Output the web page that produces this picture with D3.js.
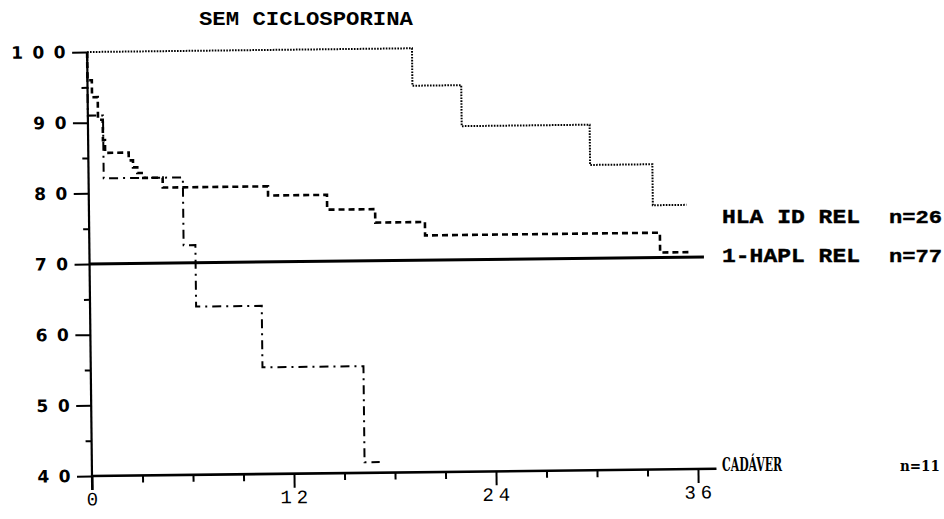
<!DOCTYPE html>
<html>
<head>
<meta charset="utf-8">
<script src="https://cdn.jsdelivr.net/npm/d3@7"></script>
<style>
  body { margin: 0; background: #fff; }
  svg { display: block; }
</style>
</head>
<body>
<div id="chart"></div>
<script>
// survival curves (months, % survival)
var hlaMonths  = [0, 19.3, 22.2, 29.8, 33.5, 35.5];
var hlaSurv    = [100, 94.7, 88.9, 83.2, 77.4, 77.4];

var haplMonths = [0, 0, 0.26, 0.6, 0.88, 1.0, 2.4, 2.65, 2.9, 3.25, 4.4, 10.65, 14.15, 17.0, 19.95, 33.9, 35.7];
var haplSurv   = [100, 96, 93.6, 90.4, 87.5, 85.7, 84.6, 83.6, 82.8, 82.1, 80.7, 79.4, 77.3, 75.4, 73.5, 70.7, 70.7];

var cadMonths  = [0, 0, 0.9, 5.6, 6.3, 10.2, 16.2, 17.1];
var cadSurv    = [100, 91, 82.1, 72.5, 63.8, 55.1, 41.5, 41.5];

var refLevel = 70;          // solid horizontal line
var refEnd = 36.5;

var groupNames = ["HLA ID REL", "1-HAPL REL", "CADÁVER"];
var groupN     = [26, 77, 11];

var yMajor = [40, 50, 60, 70, 80, 90, 100];
var yMinor = [45, 55, 65, 75, 85, 95];
var xMajor = [0, 12, 24, 36];
var xMinor = [3, 6, 9, 15, 18, 21, 27, 30, 33];

var title = "SEM CICLOSPORINA";

// setup canvas
var svg_width = 944;
var svg_height = 519;
var svg = d3.select("#chart").append("svg")
  .attr("width", svg_width)
  .attr("height", svg_height);

svg.append("rect")
  .attr("width", svg_width)
  .attr("height", svg_height)
  .attr("fill", "#fff");

var x = d3.scaleLinear().domain([0, 36]).range([92, 698]);
var y = d3.scaleLinear().domain([40, 100]).range([476, 52]);

// the scan is slightly tilted
var plot = svg.append("g")
  .attr("transform", "rotate(-0.66,92,476)");

// y-axis
var yAxis = plot.append("g")
  .attr("transform", "translate(" + x(0) + ",0)")
  .call(d3.axisLeft(y).tickValues(yMajor).tickSize(15).tickPadding(-3).tickFormat(d3.format("d")));
yAxis.select(".domain").remove();
yAxis.selectAll("line").attr("stroke", "#000").attr("stroke-width", 2);
yAxis.selectAll("text")
  .attr("fill", "#000")
  .style("font-family", "DejaVu Sans")
  .style("font-weight", "bold")
  .style("font-size", "17px")
  .style("letter-spacing", "9.5px");

var yMinorAxis = plot.append("g")
  .attr("transform", "translate(" + x(0) + ",0)")
  .call(d3.axisLeft(y).tickValues(yMinor).tickSize(6).tickFormat(""));
yMinorAxis.select(".domain").remove();
yMinorAxis.selectAll("line").attr("stroke", "#000").attr("stroke-width", 2);

plot.append("line")
  .attr("x1", x(0)).attr("x2", x(0))
  .attr("y1", y(100)).attr("y2", y(40) + 14)
  .attr("stroke", "#000").attr("stroke-width", 2.2);

// x-axis
var xAxis = plot.append("g")
  .attr("transform", "translate(0," + y(40) + ")")
  .call(d3.axisBottom(x).tickValues(xMajor).tickSize(14).tickPadding(2));
xAxis.select(".domain").remove();
xAxis.selectAll("line").attr("stroke", "#000").attr("stroke-width", 2);
xAxis.selectAll("text")
  .attr("fill", "#000")
  .attr("dx", "2px")
  .style("font-family", "Liberation Mono")
  .style("font-size", "19px")
  .style("letter-spacing", "5px");

var xMinorAxis = plot.append("g")
  .attr("transform", "translate(0," + y(40) + ")")
  .call(d3.axisBottom(x).tickValues(xMinor).tickSize(7).tickFormat(""));
xMinorAxis.select(".domain").remove();
xMinorAxis.selectAll("line").attr("stroke", "#000").attr("stroke-width", 2);

plot.append("line")
  .attr("x1", x(0)).attr("x2", x(37.1))
  .attr("y1", y(40)).attr("y2", y(40))
  .attr("stroke", "#000").attr("stroke-width", 2.6);

// reference line at 70
plot.append("line")
  .attr("x1", x(0)).attr("x2", x(refEnd))
  .attr("y1", y(refLevel)).attr("y2", y(refLevel))
  .attr("stroke", "#000").attr("stroke-width", 3);

// survival step curves
var step = d3.line()
  .x(function(d) { return x(d[0]); })
  .y(function(d) { return y(d[1]); })
  .curve(d3.curveStepAfter);

var curves = [
  { months: hlaMonths,  surv: hlaSurv,  width: 2,   dash: "1.6,1.3" },
  { months: haplMonths, surv: haplSurv, width: 2.6, dash: "6,4" },
  { months: cadMonths,  surv: cadSurv,  width: 2,   dash: "9,5,2,5" }
];

curves.forEach(function(c) {
  var pts = c.months.map(function(m, i) { return [m, c.surv[i]]; });
  plot.append("path")
    .datum(pts)
    .attr("d", step)
    .attr("fill", "none")
    .attr("stroke", "#000")
    .attr("stroke-width", c.width)
    .attr("stroke-dasharray", c.dash);
});

// title
svg.append("text")
  .attr("x", 199)
  .attr("y", 25)
  .attr("textLength", 214)
  .attr("lengthAdjust", "spacingAndGlyphs")
  .style("font-family", "Liberation Mono")
  .style("font-weight", "bold")
  .style("font-size", "21px")
  .text(title);

// group labels
var labelY = [223, 262, 471];
var nameLen = [138, 138, 60];
var nX = [889, 889, 900];
groupNames.forEach(function(name, i) {
  var cad = i == 2;
  svg.append("text")
    .attr("x", 722)
    .attr("y", labelY[i])
    .attr("textLength", nameLen[i])
    .attr("lengthAdjust", "spacingAndGlyphs")
    .style("font-family", cad ? "DejaVu Serif Condensed" : "Liberation Mono")
    .style("font-weight", "bold")
    .style("font-size", cad ? "18px" : "20px")
    .attr("stroke", "#000").attr("stroke-width", cad ? 0 : 0.4)
    .text(name);
  var nt = svg.append("text")
    .attr("x", nX[i])
    .attr("y", labelY[i])
    .style("font-family", cad ? "DejaVu Serif Condensed" : "Liberation Mono")
    .style("font-weight", "bold")
    .style("font-size", cad ? "15px" : "18px")
    .attr("stroke", "#000").attr("stroke-width", cad ? 0 : 0.4)
    .text("n=" + groupN[i]);
  if (!cad) {
    nt.attr("textLength", 53).attr("lengthAdjust", "spacingAndGlyphs");
  }
});
</script>
</body>
</html>
